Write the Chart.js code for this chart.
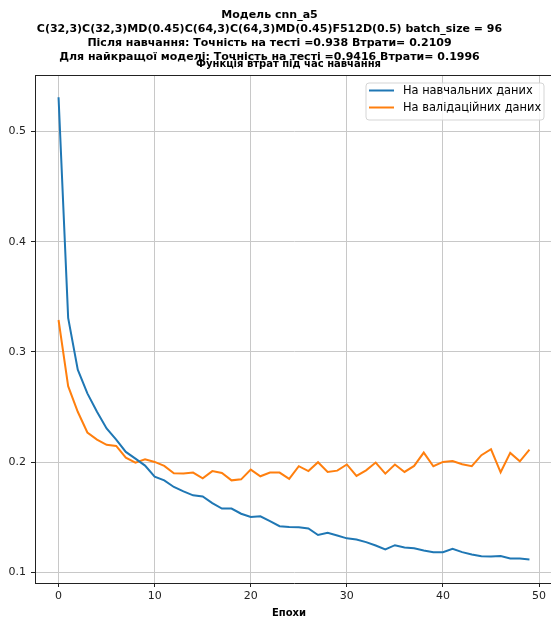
<!DOCTYPE html>
<html>
<head>
<meta charset="utf-8">
<script src="https://cdn.jsdelivr.net/npm/chart.js@4.4.1/dist/chart.umd.min.js"></script>
<style>
html,body{margin:0;padding:0;background:#fff;overflow:hidden;width:551px;height:618px;}
#wrap{position:absolute;left:0;top:0;width:556px;height:618px;}
</style>
</head>
<body>
<div id="wrap"><canvas id="c" width="556" height="618"></canvas></div>
<script>
// ---- data ----
const suptitleLines = [
  "Модель cnn_a5",
  "C(32,3)C(32,3)MD(0.45)C(64,3)C(64,3)MD(0.45)F512D(0.5) batch_size = 96",
  "Після навчання: Точність на тесті =0.938 Втрати= 0.2109",
  "Для найкращої моделі: Точність на тесті =0.9416 Втрати= 0.1996"
];
const axesTitle = "Функція втрат під час навчання";
const xLabel = "Епохи";
const seriesNames = ["На навчальних даних", "На валідаційних даних"];
const trainLoss = [0.531,0.331,0.284,0.2625,0.2458,0.2306,0.2206,0.2094,0.2033,0.197,
  0.187,0.1836,0.1776,0.1736,0.170,0.169,0.163,0.158,0.158,0.1533,
  0.1503,0.151,0.1467,0.142,0.1412,0.141,0.140,0.134,0.136,0.1336,
  0.131,0.130,0.1276,0.1245,0.121,0.1248,0.1227,0.122,0.120,0.1185,
  0.1185,0.1215,0.1185,0.1164,0.1148,0.1145,0.115,0.1127,0.1127,0.1118];
const valLoss = [0.329,0.269,0.2458,0.227,0.2206,0.2158,0.2148,0.2042,0.1997,0.2027,
  0.2003,0.1967,0.190,0.1897,0.1906,0.1855,0.192,0.1903,0.1836,0.1845,
  0.1933,0.1873,0.1906,0.1906,0.185,0.1964,0.192,0.200,0.1912,0.1924,
  0.198,0.1876,0.1927,0.1997,0.1897,0.198,0.1912,0.1967,0.2088,0.1964,
  0.2003,0.2012,0.1982,0.1964,0.2064,0.2118,0.1909,0.2085,0.2009,0.2115];
const xTicks = [0,10,20,30,40,50];
const yTicks = [0.1,0.2,0.3,0.4,0.5];
const colors = ["#1f77b4", "#ff7f0e"];

const toPts = arr => arr.map((v, i) => ({x: i, y: v}));
const FONT = "'DejaVu Sans', sans-serif";

const decor = {
  id: 'decor',
  afterDatasetsDraw(chart) {
    const {ctx, chartArea: a} = chart;
    ctx.save();
    // frame top/right
    ctx.strokeStyle = '#222';
    ctx.lineWidth = 1;
    ctx.beginPath();
    ctx.moveTo(a.left, a.top + 0.5);
    ctx.lineTo(a.right, a.top + 0.5);
    ctx.lineTo(a.right - 0.5, a.bottom);
    ctx.stroke();
    // legend
    const bx = 366, by = 83, bw = 178, bh = 37, r = 3;
    ctx.beginPath();
    ctx.moveTo(bx + r, by);
    ctx.arcTo(bx + bw, by, bx + bw, by + bh, r);
    ctx.arcTo(bx + bw, by + bh, bx, by + bh, r);
    ctx.arcTo(bx, by + bh, bx, by, r);
    ctx.arcTo(bx, by, bx + bw, by, r);
    ctx.closePath();
    ctx.fillStyle = 'rgba(255,255,255,0.8)';
    ctx.fill();
    ctx.strokeStyle = '#d5d5d5';
    ctx.stroke();
    const rows = [90.5, 107.5];
    ctx.font = "11.4px " + FONT;
    ctx.textBaseline = 'middle';
    ctx.textAlign = 'left';
    seriesNames.forEach((n, i) => {
      ctx.strokeStyle = colors[i];
      ctx.lineWidth = 2;
      ctx.beginPath();
      ctx.moveTo(369, rows[i]);
      ctx.lineTo(394, rows[i]);
      ctx.stroke();
      ctx.fillStyle = '#000';
      ctx.fillText(n, 403, rows[i] + 0.5);
    });
    ctx.restore();
  },
  afterDraw(chart) {
    const {ctx} = chart;
    ctx.save();
    ctx.fillStyle = '#000';
    ctx.textAlign = 'center';
    ctx.textBaseline = 'alphabetic';
    ctx.font = "bold 11px " + FONT;
    const base = [17.5, 31.5, 45.5, 59.5];
    suptitleLines.forEach((t, i) => ctx.fillText(t, 269.5, base[i]));
    ctx.font = "bold 10px " + FONT;
    ctx.fillText(axesTitle, 288.5, 67);
    ctx.fillText(xLabel, 289, 615.5);
    ctx.restore();
  }
};

new Chart(document.getElementById('c'), {
  type: 'line',
  data: {
    datasets: [
      {label: seriesNames[0], data: toPts(trainLoss), borderColor: colors[0], borderWidth: 2, pointRadius: 0, tension: 0, fill: false},
      {label: seriesNames[1], data: toPts(valLoss), borderColor: colors[1], borderWidth: 2, pointRadius: 0, tension: 0, fill: false}
    ]
  },
  options: {
    responsive: false,
    animation: false,
    devicePixelRatio: 1,
    layout: {padding: {top: 75, right: 3, left: 0, bottom: 0}},
    plugins: {legend: {display: false}, title: {display: false}, tooltip: {enabled: false}},
    scales: {
      x: {
        type: 'linear', min: -2.45, max: 51.45,
        afterBuildTicks: s => { s.ticks = xTicks.map(v => ({value: v})); },
        afterFit: s => { s.height = 35; },
        grid: {color: '#c8c8c8', lineWidth: 1, tickLength: 4, tickColor: '#222'},
        border: {color: '#222', width: 1},
        ticks: {color: '#222', font: {family: FONT, size: 11}, padding: 3, maxRotation: 0, callback: v => String(v)}
      },
      y: {
        type: 'linear', min: 0.0905, max: 0.5512,
        afterBuildTicks: s => { s.ticks = yTicks.map(v => ({value: v})); },
        afterFit: s => { s.width = 35; },
        grid: {color: '#c8c8c8', lineWidth: 1, tickLength: 4, tickColor: '#222'},
        border: {color: '#222', width: 1},
        ticks: {color: '#222', font: {family: FONT, size: 11}, padding: 5, callback: v => v.toFixed(1)}
      }
    }
  },
  plugins: [decor]
});
</script>
</body>
</html>
